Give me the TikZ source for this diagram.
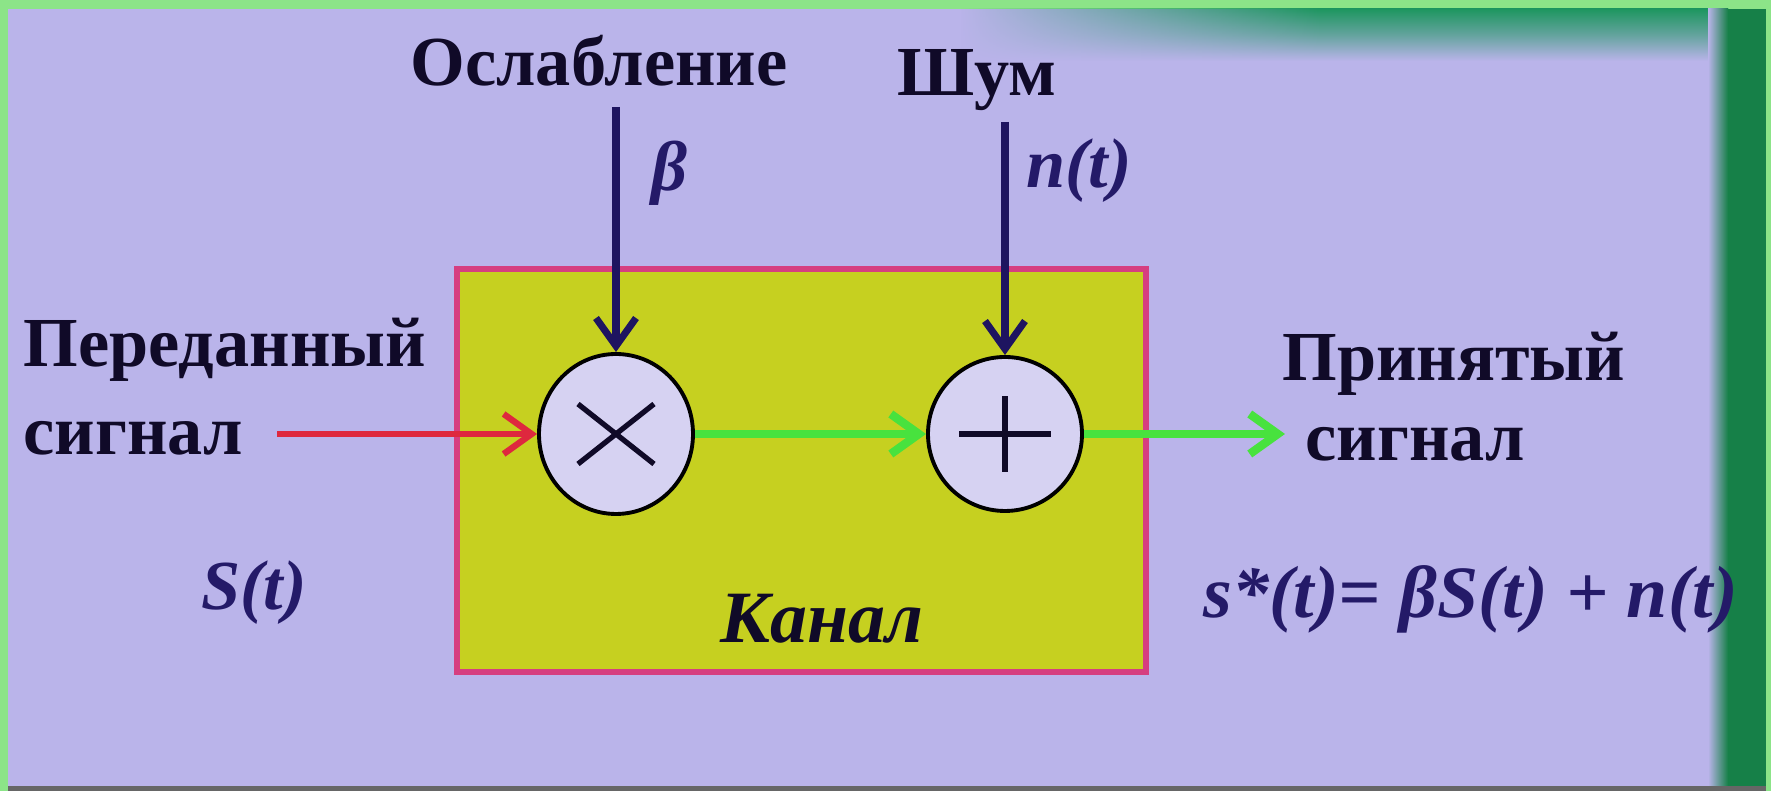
\documentclass[tikz,border=0pt]{standalone}
\usepackage{fontspec}
\setmainfont{Liberation Serif}
\usetikzlibrary{arrows.meta,positioning,shapes.geometric,fadings}
\definecolor{frameGreen}{RGB}{140, 228, 136}
\definecolor{stripGreen}{RGB}{22, 128, 72}
\definecolor{topTeal}{RGB}{30, 150, 96}
\definecolor{bgLavender}{RGB}{186, 180, 234}
\definecolor{chanFill}{RGB}{198, 208, 32}
\definecolor{chanBorder}{RGB}{214, 62, 128}
\definecolor{opFill}{RGB}{214, 210, 242}
\definecolor{inkDark}{RGB}{16, 10, 40}
\definecolor{inkBlue}{RGB}{36, 26, 104}
\definecolor{feedBlue}{RGB}{30, 20, 96}
\definecolor{sigRed}{RGB}{222, 40, 62}
\definecolor{sigGreen}{RGB}{72, 226, 62}

\begin{document}
\begin{tikzpicture}[
  caption/.style={
    inner sep=0pt,
    text=inkDark,
    font=\bfseries\fontsize{20}{24}\selectfont
  },
  formula/.style={
    inner sep=0pt,
    text=inkBlue,
    font=\bfseries\itshape\fontsize{20}{24}\selectfont
  },
  channel/.style={
    draw=chanBorder,
    line width=1.6pt,
    fill=chanFill,
    minimum width=6.89cm,
    minimum height=4.03cm
  },
  opnode/.style={
    draw,
    ellipse,
    line width=1.1pt,
    fill=opFill,
    minimum width=1.54cm,
    minimum height=1.6cm,
    inner sep=0pt
  },
  opmark/.style={line width=1.5pt,inkDark},
  feed/.style={-{Straight Barb[length=2.8mm,width=4mm]},line width=2pt,feedBlue},
  sigin/.style={-{Straight Barb[length=2.8mm,width=4mm]},line width=1.8pt,sigRed},
  sigout/.style={-{Straight Barb[length=2.8mm,width=4mm]},line width=2.4pt,sigGreen}
]
  % background of the slide
  \useasboundingbox (0,0) rectangle (17.71,7.91);
  \fill[frameGreen] (0,0) rectangle (17.71,7.91);
  \fill[bgLavender] (0.08,0.05) rectangle (17.66,7.82);
  \shade[top color=topTeal,bottom color=bgLavender,middle color=topTeal!55!bgLavender]
    (13.2,7.3) rectangle (17.28,7.82);
  \shade[top color=topTeal,bottom color=bgLavender,middle color=topTeal!55!bgLavender,path fading=west]
    (9.6,7.3) rectangle (13.21,7.82);
  \shade[left color=bgLavender,right color=stripGreen] (17.08,0.05) rectangle (17.28,7.82);
  \fill[stripGreen] (17.28,0.05) rectangle (17.66,7.82);
  \fill[black!60] (0.08,0) rectangle (17.66,0.05);

  % channel with the two operations
  \node[channel] (chan) at (8.015,3.205) {};
  \node[opnode] (mult) at (6.16,3.57) {};
  \node[opnode,minimum height=1.54cm] (plus) at (10.05,3.57) {};
  \draw[opmark] ([shift={(-0.38,-0.3)}]mult.center) -- ([shift={(0.38,0.3)}]mult.center);
  \draw[opmark] ([shift={(-0.38,0.3)}]mult.center) -- ([shift={(0.38,-0.3)}]mult.center);
  \draw[opmark] ([xshift=-0.46cm]plus.center) -- ([xshift=0.46cm]plus.center);
  \draw[opmark] ([yshift=-0.38cm]plus.center) -- ([yshift=0.38cm]plus.center);
  \node[formula,text=inkDark,font=\bfseries\itshape\fontsize{21}{24}\selectfont] (chanlabel)
    at (8.22,1.72) {Канал};

  % inputs from above
  \coordinate (attin) at (6.16,6.84);
  \coordinate (noisein) at (10.05,6.69);
  \node[caption,anchor=base] (attlabel) at (5.99,7.05) {Ослабление};
  \node[caption,anchor=base] (noiselabel) at (9.77,6.95) {Шум};
  \node[formula] (beta) at (6.69,6.18) {β};
  \node[formula] (noise) at (10.79,6.2) {n(t)};
  \draw[feed] (attin) -- (mult);
  \draw[feed] (noisein) -- (plus);

  % transmitted signal
  \node[caption,anchor=west] (sent) at (0.23,4.41) {Переданный};
  \node[caption,below=0.38cm of sent.south west,anchor=north west] (sent2) {сигнал};
  \coordinate (sigstart) at (2.77,3.57);
  \node[formula] (sentmath) at (2.54,1.98) {S(t)};

  % received signal
  \node[caption,anchor=west] (recv) at (12.82,4.27) {Принятый};
  \node[caption,anchor=west] (recv2) at (13.05,3.47) {сигнал};
  \coordinate (sigend) at (12.85,3.57);
  \node[formula,font=\bfseries\itshape\fontsize{21}{24}\selectfont,anchor=west] (recvmath)
    at (12.03,1.92) {s*(t)= βS(t) + n(t)};

  \draw[sigin] (sigstart) -- (mult);
  \draw[sigout] (mult) -- (plus);
  \draw[sigout] (plus) -- (sigend);
\end{tikzpicture}
\end{document}
